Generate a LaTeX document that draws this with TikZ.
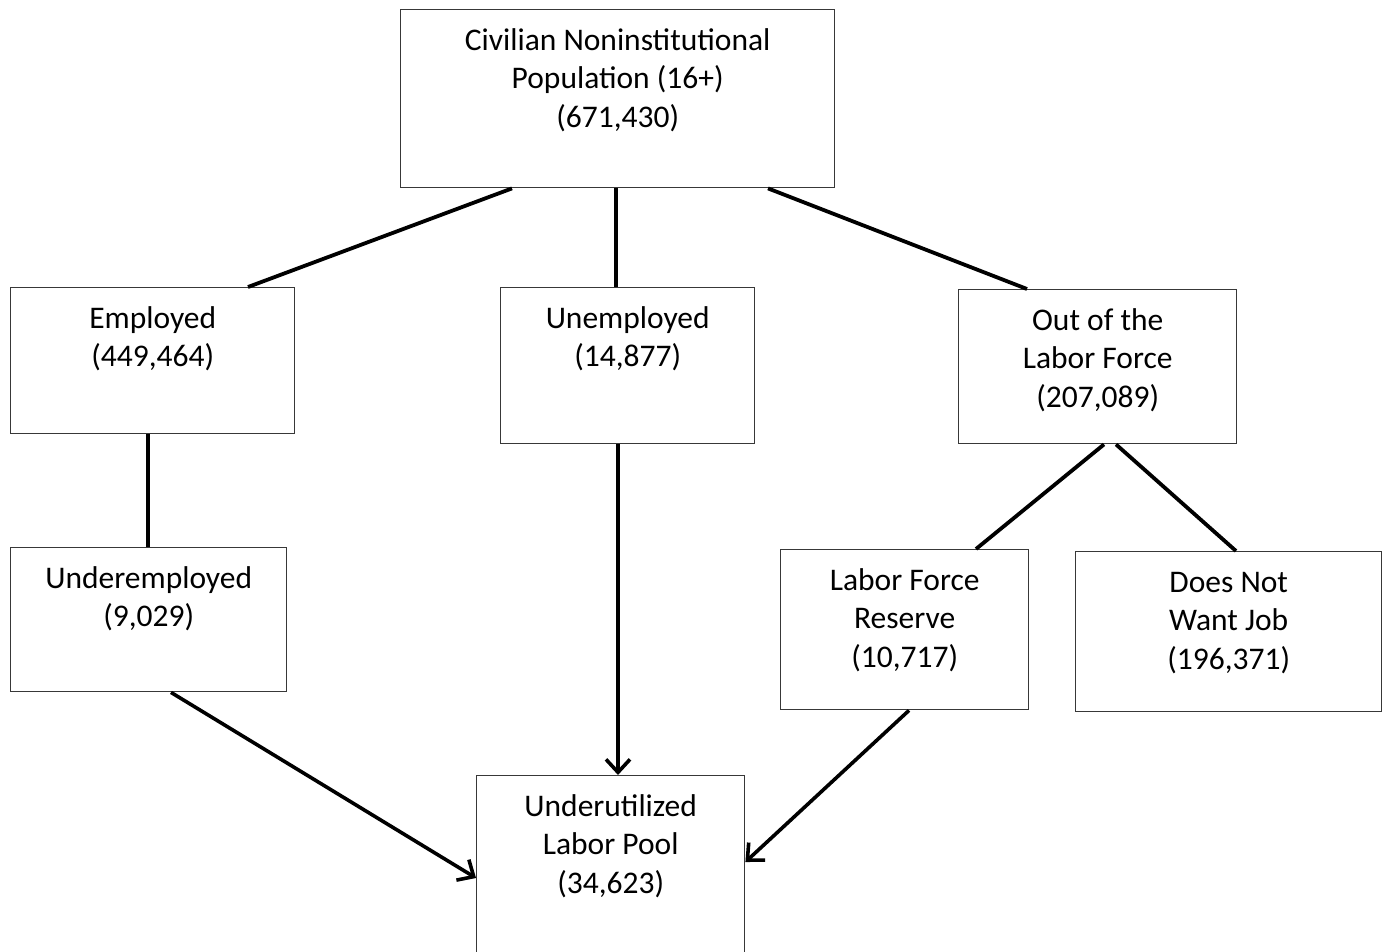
\documentclass[tikz,border=0pt]{standalone}
\usepackage{fontspec}
\setmainfont{Carlito}
\usetikzlibrary{arrows.meta,calc}
\begin{document}
\begin{tikzpicture}[x=1pt,y=-1pt,
  box/.style={draw=black!78, line width=1.4pt, fill=white, inner sep=0pt, anchor=north west},
  txt/.style={anchor=north, align=center, inner sep=0pt, font=\fontsize{31.5}{38.5}\selectfont},
  conn/.style={line width=3.8pt},
  arr/.style={line width=3.6pt, -{Straight Barb[length=13pt,width=24pt]}}]
\clip (0,0) rectangle (1386,952);
\fill[white] (0,0) rectangle (1386,952);
% boxes
\node[box, minimum width=434pt, minimum height=178pt] (top) at (400,9) {};
\node[box, minimum width=284pt, minimum height=146pt] (emp) at (10,287) {};
\node[box, minimum width=254pt, minimum height=156pt] (unemp) at (500,287) {};
\node[box, minimum width=278pt, minimum height=154pt] (olf) at (958,289) {};
\node[box, minimum width=276pt, minimum height=144pt] (under) at (10,547) {};
\node[box, minimum width=248pt, minimum height=160pt] (res) at (780,549) {};
\node[box, minimum width=306pt, minimum height=160pt] (dnw) at (1075,551) {};
\node[box, minimum width=268pt, minimum height=190pt] (pool) at (476,775) {};
% texts
\node[txt] (topt) at ($(top.north)+(0,14)$) {\strut Civilian Noninstitutional\\Population (16+)\\(671,430)};
\node[txt] (empt) at ($(emp.north)+(0,14)$) {\strut Employed\\(449,464)};
\node[txt] (unempt) at ($(unemp.north)+(0,14)$) {\strut Unemployed\\(14,877)};
\node[txt] (olft) at ($(olf.north)+(0,14)$) {\strut Out of the\\Labor Force\\(207,089)};
\node[txt] (undert) at ($(under.north)+(0,14)$) {\strut Underemployed\\(9,029)};
\node[txt] (rest) at ($(res.north)+(0,14)$) {\strut Labor Force\\Reserve\\(10,717)};
\node[txt] (dnwt) at ($(dnw.north)+(0,14)$) {\strut Does Not\\Want Job\\(196,371)};
\node[txt] (poolt) at ($(pool.north)+(0,14)$) {\strut Underutilized\\Labor Pool\\(34,623)};
% connectors
\draw[conn] ($(top.south west)+(112,0)$) -- ($(emp.north west)+(238,0)$);
\draw[conn] ($(top.south west)+(216,0)$) -- ($(unemp.north west)+(116,0)$);
\draw[conn] ($(top.south west)+(368,0)$) -- ($(olf.north west)+(69,0)$);
\draw[conn] ($(emp.south west)+(138,0)$) -- ($(under.north west)+(138,0)$);
\draw[conn] ($(olf.south west)+(146,0)$) -- ($(res.north west)+(196,0)$);
\draw[conn] ($(olf.south west)+(158,0)$) -- ($(dnw.north west)+(161,0)$);
\draw[arr] ($(unemp.south west)+(118,0)$) -- ($(pool.north west)+(142,0)$);
\draw[arr] ($(under.south west)+(161,0)$) -- ($(pool.north west)+(0,103)$);
\draw[arr] ($(res.south west)+(129,0)$) -- ($(pool.north east)+(0,87)$);
\end{tikzpicture}
\end{document}
